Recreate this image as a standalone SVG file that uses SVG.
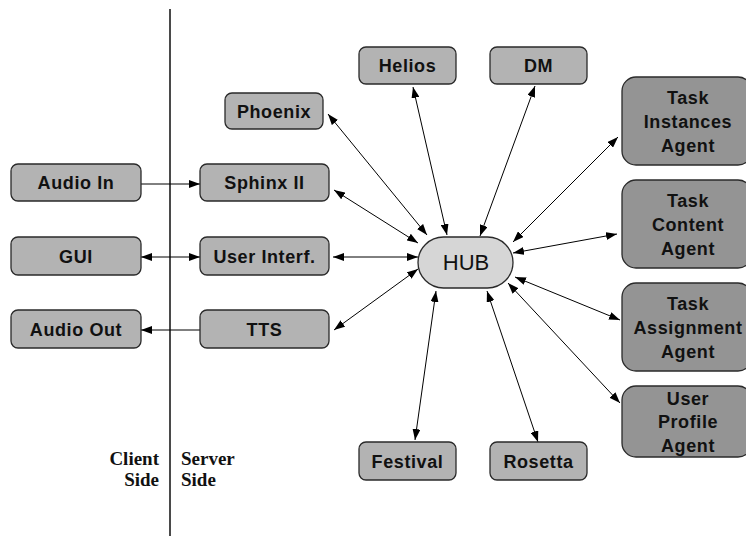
<svg xmlns="http://www.w3.org/2000/svg" width="746" height="536" viewBox="0 0 746 536">
<style>
.box{fill:#b3b3b3;stroke:#2a2a2a;stroke-width:1.3}
.agent{fill:#949494;stroke:#2a2a2a;stroke-width:1.3}
.hub{fill:#d6d6d6;stroke:#2a2a2a;stroke-width:1.3}
.lbl{font-family:"Liberation Sans",Arial,sans-serif;font-weight:bold;font-size:18px;letter-spacing:0.6px;fill:#111;text-anchor:middle}
.hubt{font-family:"Liberation Sans",Arial,sans-serif;font-size:22px;fill:#111;text-anchor:middle}
.side{font-family:"Liberation Serif","Times New Roman",serif;font-weight:bold;font-size:19px;fill:#111}
.c{stroke:#000;stroke-width:1;fill:none}
.bi{marker-start:url(#ah);marker-end:url(#ah)}
.one{marker-end:url(#ah)}
</style>
<defs>
<marker id="ah" markerUnits="userSpaceOnUse" markerWidth="11" markerHeight="8" refX="11" refY="4" orient="auto-start-reverse">
<path d="M0,0 L11,4 L0,8 z" fill="#000"/>
</marker>
</defs>
<rect width="746" height="536" fill="#fff"/>
<line x1="170" y1="9" x2="170" y2="536" stroke="#4a4a4a" stroke-width="2"/>
<g id="side-labels">
<text class="side" x="159" y="465" text-anchor="end">Client</text>
<text class="side" x="159" y="486" text-anchor="end">Side</text>
<text class="side" x="181" y="465">Server</text>
<text class="side" x="181" y="486">Side</text>
</g>
<g id="connectors">
<line class="c one" x1="141" y1="184" x2="200" y2="184"/>
<line class="c bi" x1="141" y1="257" x2="200" y2="257"/>
<line class="c one" x1="200" y1="330" x2="141" y2="330"/>
<line class="c bi" x1="328" y1="114" x2="427" y2="235"/>
<line class="c bi" x1="334" y1="190" x2="418" y2="243"/>
<line class="c bi" x1="333" y1="257" x2="418" y2="257"/>
<line class="c bi" x1="334" y1="330" x2="418" y2="269"/>
<line class="c bi" x1="413" y1="87" x2="447" y2="235"/>
<line class="c bi" x1="535" y1="86" x2="480" y2="236"/>
<line class="c bi" x1="618" y1="137" x2="513" y2="242"/>
<line class="c bi" x1="617" y1="234" x2="513" y2="253"/>
<line class="c bi" x1="620" y1="320" x2="515" y2="277"/>
<line class="c bi" x1="620" y1="403" x2="508" y2="283"/>
<line class="c bi" x1="415" y1="440" x2="436" y2="291"/>
<line class="c bi" x1="538" y1="442" x2="487" y2="291"/>
</g>
<g id="hub"><rect class="hub" x="418" y="237" width="95" height="51" rx="25.5"/><text class="hubt" x="466" y="270">HUB</text></g>
<g id="phoenix"><rect class="box" x="225" y="93" width="98" height="36" rx="7"/><text class="lbl" x="274" y="117.5">Phoenix</text></g>
<g id="helios"><rect class="box" x="359" y="47" width="97" height="37" rx="7"/><text class="lbl" x="407.5" y="72">Helios</text></g>
<g id="dm"><rect class="box" x="490" y="47" width="97" height="37" rx="7"/><text class="lbl" x="538.5" y="72">DM</text></g>
<g id="audio-in"><rect class="box" x="11" y="164" width="130" height="37" rx="7"/><text class="lbl" x="76" y="189">Audio In</text></g>
<g id="sphinx"><rect class="box" x="200" y="164" width="129" height="37" rx="7"/><text class="lbl" x="264.5" y="189">Sphinx II</text></g>
<g id="gui"><rect class="box" x="11" y="237" width="130" height="38" rx="7"/><text class="lbl" x="76" y="262.5">GUI</text></g>
<g id="user-interf"><rect class="box" x="200" y="237" width="129" height="38" rx="7"/><text class="lbl" x="264.5" y="262.5">User Interf.</text></g>
<g id="audio-out"><rect class="box" x="11" y="310" width="130" height="38" rx="7"/><text class="lbl" x="76" y="335.5">Audio Out</text></g>
<g id="tts"><rect class="box" x="200" y="310" width="129" height="38" rx="7"/><text class="lbl" x="264.5" y="335.5">TTS</text></g>
<g id="festival"><rect class="box" x="359" y="442" width="97" height="38" rx="7"/><text class="lbl" x="407.5" y="467.5">Festival</text></g>
<g id="rosetta"><rect class="box" x="490" y="442" width="97" height="38" rx="7"/><text class="lbl" x="538.5" y="467.5">Rosetta</text></g>
<g id="task-instances"><rect class="agent" x="622" y="77" width="130" height="88" rx="14"/><text class="lbl" x="688" y="104">Task</text><text class="lbl" x="688" y="128">Instances</text><text class="lbl" x="688" y="152">Agent</text></g>
<g id="task-content"><rect class="agent" x="622" y="180" width="130" height="88" rx="14"/><text class="lbl" x="688" y="207">Task</text><text class="lbl" x="688" y="231">Content</text><text class="lbl" x="688" y="255">Agent</text></g>
<g id="task-assignment"><rect class="agent" x="622" y="283" width="130" height="88" rx="14"/><text class="lbl" x="688" y="310">Task</text><text class="lbl" x="688" y="334">Assignment</text><text class="lbl" x="688" y="358">Agent</text></g>
<g id="user-profile"><rect class="agent" x="622" y="386" width="130" height="71" rx="14"/><text class="lbl" x="688" y="404.5">User</text><text class="lbl" x="688" y="428">Profile</text><text class="lbl" x="688" y="451.5">Agent</text></g>
</svg>
